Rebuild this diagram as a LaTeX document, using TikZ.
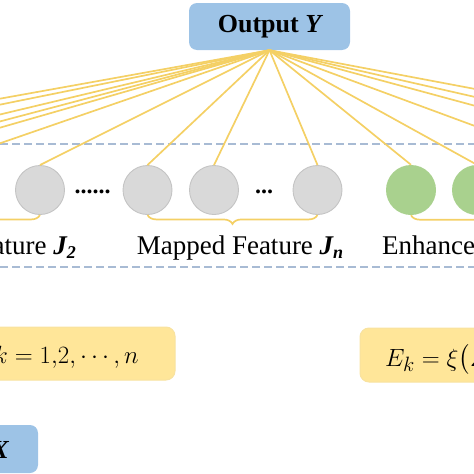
\documentclass[tikz,border=0pt]{standalone}
\usepackage{amsmath,bm}
\usepackage{fontspec}
\setmainfont{Liberation Serif}
\usetikzlibrary{decorations.pathreplacing}
\definecolor{lineY}{HTML}{F4D065}
\definecolor{boxblue}{HTML}{9DC3E6}
\definecolor{boxyellow}{HTML}{FFE699}
\definecolor{yedge}{HTML}{F8E2A0}
\definecolor{nodegray}{HTML}{D9D9D9}
\definecolor{grayedge}{HTML}{C4C4C4}
\definecolor{nodegreen}{HTML}{A9D18E}
\definecolor{dashblue}{HTML}{A8BBD4}
\tikzset{
  yline/.style={draw=lineY, line width=1.7pt},
  bluebox/.style={fill=boxblue, draw=none, rounded corners=8pt},
  yellowbox/.style={fill=boxyellow, draw=yedge, line width=1pt, rounded corners=9pt},
  graynode/.style={circle, fill=nodegray, draw=grayedge, line width=0.9pt, minimum size=49pt, inner sep=0pt},
  greennode/.style={circle, fill=nodegreen, draw=none, minimum size=50pt, inner sep=0pt},
  dashline/.style={draw=dashblue, line width=2pt, dash pattern=on 8pt off 4pt},
  lab/.style={font=\fontsize{27}{30}\selectfont, inner sep=0pt, anchor=base},
  bracey/.style={yline, decorate, decoration={brace, mirror, amplitude=9pt}},
}
\newcommand{\bsub}[2]{{\bfseries\itshape #1}\raisebox{-0.35ex}{\fontsize{18}{18}\selectfont\bfseries\itshape #2}}
\begin{document}
\begin{tikzpicture}[x=1pt,y=-1pt]
\useasboundingbox (0,0) rectangle (474,474);
\clip (0,0) rectangle (474,474);
% output box
\node[bluebox, minimum width=161pt, minimum height=47pt, inner sep=0pt,
      font=\fontsize{26}{30}\selectfont] (out) at (269.5,26.5) {\bfseries Output \itshape Y};
% dashed separators
\coordinate (d1a) at (0,144); \coordinate (d1b) at (474,144);
\coordinate (d2a) at (0,267); \coordinate (d2b) at (474,267);
\draw[dashline] (d1a) -- (d1b);
\draw[dashline] (d2a) -- (d2b);
% hidden (off-canvas) feature nodes
\foreach \n/\x in {h1/-369, h2/-299, h3/-212, h4/-165, h5/-130, h6/-63}
  \node[graynode] (\n) at (\x,190) {};
\foreach \n/\x in {e3/580, e4/693, e5/773, e6/877}
  \node[greennode] (\n) at (\x,190) {};
% visible nodes
\node[graynode] (g1) at (40,190) {};
\node[graynode] (g2) at (147.5,190) {};
\node[graynode] (g3) at (214,190) {};
\node[graynode] (g4) at (317.5,190) {};
\node[greennode] (e1) at (411,190) {};
\node[greennode] (e2) at (477,190) {};
% connectors
\foreach \n in {h1,h2,h3,h4,h5,h6,g1,g2,g3,g4,e1,e2,e3,e4,e5,e6}
  \draw[yline] (out.south) -- (\n.north);
% dots
\node[lab, font=\fontsize{24}{26}\selectfont\bfseries] (dotsA) at (92.5,193) {......};
\node[lab, font=\fontsize{24}{26}\selectfont\bfseries] (dotsB) at (264,193) {...};
% braces
\draw[bracey] (h5.south) -- (g1.south);
\draw[bracey] (g2.south) -- (g4.south);
\draw[bracey] (e1.south) -- (e3.south);
% labels
\node[lab, anchor=base east] (labJ2) at (76,254) {Mapped Feature \bsub{J}{2}};
\node[lab] (labJn) at (240,254) {Mapped Feature \bsub{J}{n}};
\node[lab, anchor=base west] (labH) at (382,254) {Enhancement Nodes};
% formula boxes
\node[yellowbox, minimum width=355pt, minimum height=53pt] (zbox) at (-2.5,353.5) {};
\node[font=\fontsize{28}{30}\selectfont, inner sep=0pt, anchor=base east] (ztext) at (139,363) {$k = 1{,}2{,}\cdots{,}\,n$};
\node[yellowbox, minimum width=300pt, minimum height=54pt] (hbox) at (510,355) {};
\node[font=\fontsize{28}{30}\selectfont, inner sep=0pt, anchor=base west] (htext) at (385,366) {$E_k = \xi\bigl(\bm{Z}_k\bm{W}\bigr)$};
% input box
\node[bluebox, minimum width=160pt, minimum height=48pt] (inp) at (-42,449) {};
\node[font=\fontsize{26}{30}\selectfont, inner sep=0pt, anchor=base east] (intext) at (9,458) {\bfseries Input \itshape X};
\end{tikzpicture}
\end{document}
